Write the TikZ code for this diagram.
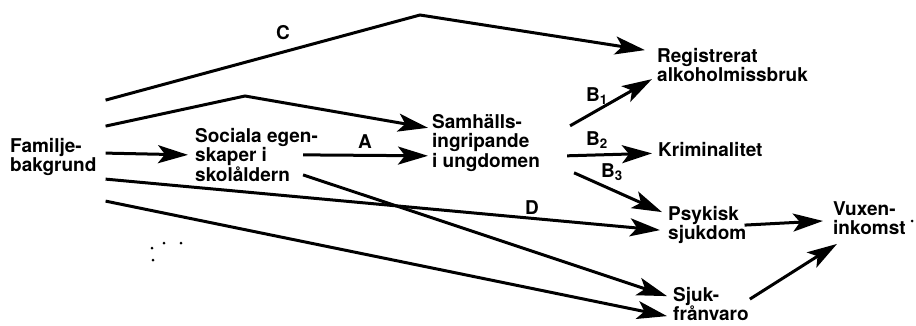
\documentclass[tikz,border=0pt]{standalone}
\usepackage{fontspec}
\setmainfont{TeX Gyre Heros}
\usetikzlibrary{calc}
\usetikzlibrary{arrows.meta}

\begin{document}
\begin{tikzpicture}[x=1pt, y=-1pt
  , box/.style={ anchor = north west
               , align = left
               , inner sep = 0pt
               , font = \fontsize{19}{19.5}\selectfont\bfseries
               }
  , lbl/.style={ inner sep = 0pt
               , font = \fontsize{19}{19.5}\selectfont\bfseries
               }
  , path/.style={ line width = 3pt
                , -{Stealth[length=30pt, width=18pt, inset=7pt]}
                }
  ]

  \useasboundingbox (0,0) rectangle (916,325);

  % the variables
  \node[box] (fam)  at (10,138)  {Familje-\\bakgrund};
  \node[box] (soc)  at (195,128) {Sociala egen-\\skaper i\\skolåldern};
  \node[box] (sam)  at (432,114) {Samhälls-\\ingripande\\i ungdomen};
  \node[box] (reg)  at (657,48)  {Registrerat\\alkoholmissbruk};
  \node[box] (krim) at (658,142) {Kriminalitet};
  \node[box] (psy)  at (668,206) {Psykisk\\sjukdom};
  \node[box] (vux)  at (833,201) {Vuxen-\\inkomst};
  \node[box] (sjuk) at (673,287) {Sjuk-\\frånvaro};

  % bends of the long paths
  \coordinate (peakC) at (420,15);
  \coordinate (peakS) at (245,96);

  % effects
  \draw[path] ($(fam.east)+(9,-57)$) -- (peakC) -- ($(reg.west)+(-12,-15)$);
  \draw[path] ($(fam.east)+(9,-31)$) -- (peakS) -- ($(sam.west)+(-4,-15)$);
  \draw[path] ($(fam.east)+(9,-4)$) -- ($(soc.west)+(-7,0)$);
  \draw[path] ($(soc.east)+(-15,0)$) -- ($(sam.west)+(-4,13)$);
  \draw[path] ($(soc.east)+(-15,20)$) -- ($(sjuk.west)+(-6,-8)$);
  \draw[path] ($(fam.east)+(9,22)$) -- ($(psy.west)+(-8,5)$);
  \draw[path] ($(fam.east)+(9,44)$) -- ($(sjuk.west)+(-6,12)$);

  \draw[path] ($(sam.east)+(30,-17)$) -- ($(reg.west)+(-5,14)$);
  \draw[path] ($(sam.east)+(27,13)$) -- ($(krim.west)+(-6,4)$);
  \draw[path] ($(sam.east)+(34,30)$) -- ($(psy.west)+(-6,-13)$);

  \draw[path] ($(psy.east)+(-2,0)$) -- ($(vux.west)+(-10,3)$);
  \draw[path] ($(sjuk.east)+(1,-5)$) -- ($(vux.south west)+(4,9)$);

  % path labels
  \node[lbl] (labC)  at (283,33)  {C};
  \node[lbl] (labA)  at (365,142) {A};
  \node[lbl] (labB1) at (597,96)  {B\textsubscript{1}};
  \node[lbl] (labB2) at (597,140) {B\textsubscript{2}};
  \node[lbl] (labB3) at (612,172) {B\textsubscript{3}};
  \node[lbl] (labD)  at (532,208) {D};

  % specks
  \foreach \x/\y in {152/248, 164/243, 181/243, 153/260, 912/221}
    \fill (\x,\y) circle (1.5pt);

\end{tikzpicture}
\end{document}
